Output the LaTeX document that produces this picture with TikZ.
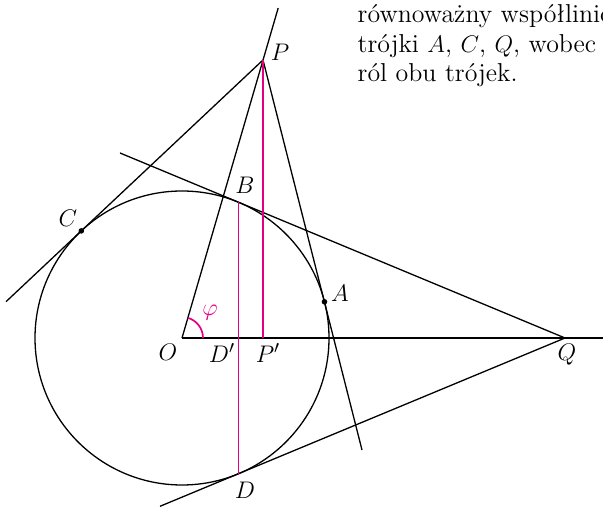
\documentclass[tikz,border=0pt]{standalone}
\usepackage{fontspec}
\begin{document}
\begin{tikzpicture}[x=0.5pt,y=0.5pt,line width=0.65pt,
  every node/.style={font=\fontsize{12.95}{15}\selectfont}]
\definecolor{mag}{RGB}{228,0,130}
\tikzset{
  proj/.style={draw=mag,line width=0.85pt},
  lab/.style={inner sep=1pt},
  txt/.style={anchor=base west,inner sep=0pt},
  dot/.style={circle,fill=black,inner sep=0pt,minimum size=2.8pt}}
\useasboundingbox (0,0) rectangle (603,507);
\clip (0,0) rectangle (603,507);
\coordinate (O) at (182,169);
\coordinate (Q) at (565,169);
\coordinate (P) at (263,447);
\coordinate (Pp) at (263,169);
\coordinate (B) at (238.42,304.74);
\coordinate (D) at (238.42,33.26);
\coordinate (Dp) at (238.42,169);
\coordinate (C) at (81.30,276.09);
\coordinate (A) at (324.47,205.22);
\coordinate (OPend) at (278.2,499);
\coordinate (Cend) at (6,205.3);
\coordinate (Aend) at (362,57);
\coordinate (Bend) at (120,354);
\coordinate (Dend) at (160,0.7);
\coordinate (Xend) at (605,169);
\coordinate (Arc0) at (203,169);
% circle and lines
\draw (O) circle [radius=147];
\draw (O) -- (OPend);
\draw (Cend) -- (P);
\draw (P) -- (Aend);
\draw (Q) -- (Bend);
\draw (Q) -- (Dend);
\draw (O) -- (Xend);
% projections
\draw[proj] (P) -- (Pp);
\draw[proj] (B) -- (D);
\draw[proj] (Arc0) arc[start angle=0,end angle=73.755,radius=21];
\node[dot] (Cdot) at (C) {};
\node[dot] (Adot) at (A) {};
% labels
\node[lab] (lO) at (168,155) {$O$};
\node[lab] (lDp) at (222,154) {$D'$};
\node[lab] (lPp) at (268,154) {$P'$};
\node[lab] (lQ) at (567,152) {$Q$};
\node[lab] (lD) at (245,17) {$D$};
\node[lab] (lB) at (245,322) {$B$};
\node[lab] (lC) at (68,289) {$C$};
\node[lab] (lA) at (340,214) {$A$};
\node[lab] (lP) at (280,455) {$P$};
\node[lab,text=mag] (lphi) at (210,194) {$\varphi$};
% text
\node[txt] (t1) at (357,484.3) {równoważny współlinio};
\node[txt] (t2) at (357,454) {trójki $A$, $C$, $Q$, wobec};
\node[txt] (t3) at (357,425) {ról obu trójek.};
\end{tikzpicture}
\end{document}
